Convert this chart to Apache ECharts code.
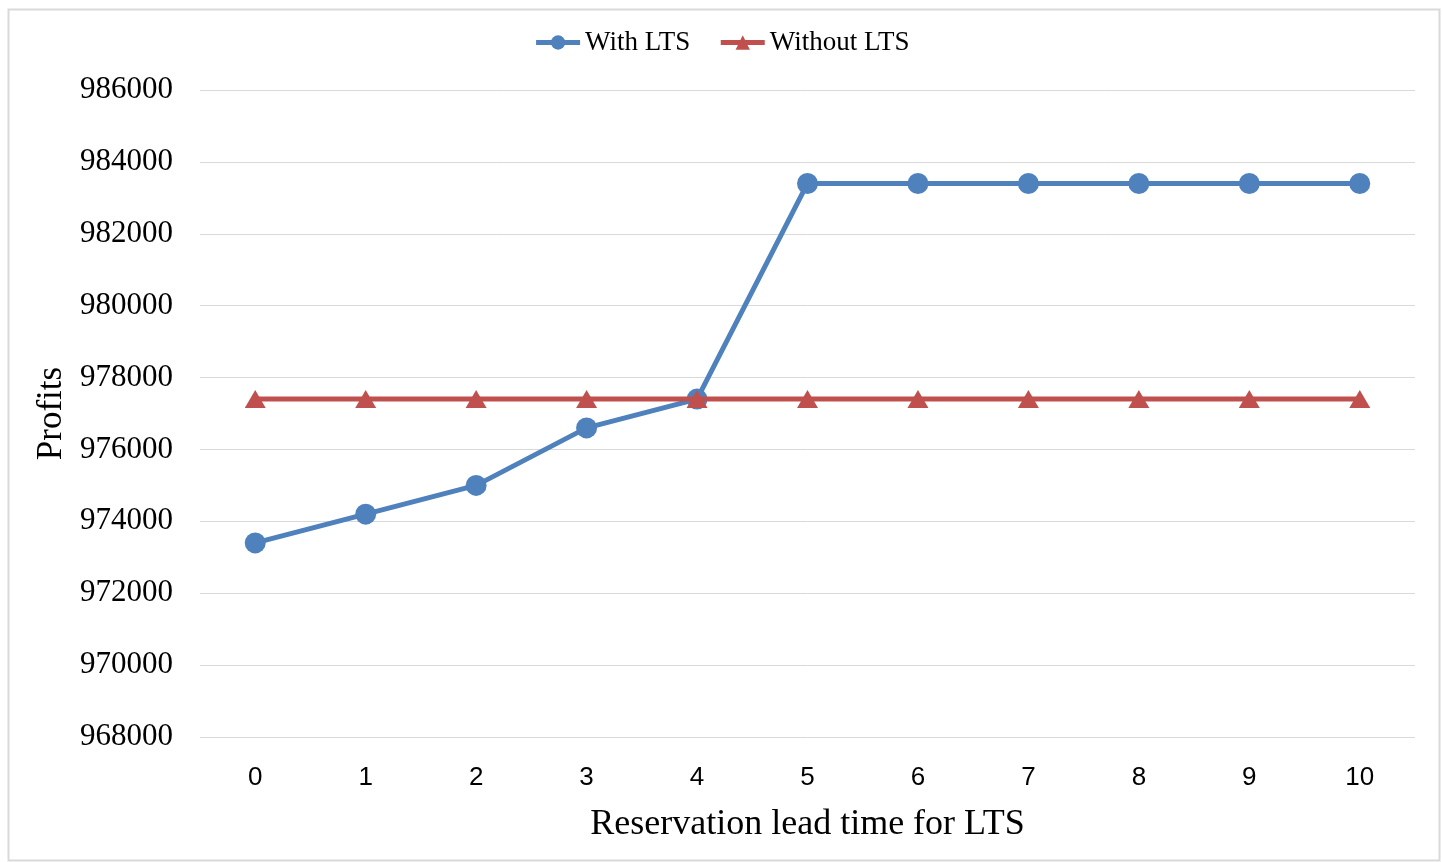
<!DOCTYPE html>
<html><head><meta charset="utf-8">
<script src="https://cdn.jsdelivr.net/npm/echarts@6/dist/echarts.min.js"></script>
<style>html,body{margin:0;padding:0;background:#fff}#c{width:1443px;height:862px}</style>
</head><body><div id="c"></div>
<script>
const categories = ['0','1','2','3','4','5','6','7','8','9','10'];
const withLTS = [973400, 974200, 975000, 976600, 977400, 983400, 983400, 983400, 983400, 983400, 983400];
const withoutLTS = [977400, 977400, 977400, 977400, 977400, 977400, 977400, 977400, 977400, 977400, 977400];
const seriesNames = ['With LTS', 'Without LTS'];
const yMin = 968000, yMax = 986000, yStep = 2000;

const chart = echarts.init(document.getElementById('c'));
const serif = '"Liberation Serif", "Times New Roman", serif';
chart.setOption({
  animation: false,
  backgroundColor: '#fff',
  graphic: [{
    type: 'rect', left: 6, top: 7,
    shape: { width: 1431, height: 851 },
    style: { fill: 'none', stroke: '#d9d9d9', lineWidth: 2 }
  }],
  legend: {
    top: 24, left: 'center',
    itemWidth: 44, itemHeight: 18, itemGap: 28,
    lineStyle: { width: 5 },
    textStyle: { fontFamily: serif, fontSize: 27, color: '#000' },
    data: seriesNames
  },
  grid: { left: 200, right: 28, top: 90, bottom: 125, containLabel: false },
  xAxis: {
    type: 'category', data: categories, boundaryGap: true,
    axisLine: { show: false }, axisTick: { show: false },
    axisLabel: { fontFamily: '"Liberation Sans", Arial, sans-serif', fontSize: 26, color: '#000', margin: 28 },
    name: 'Reservation lead time for LTS', nameLocation: 'middle', nameGap: 70,
    nameTextStyle: { fontFamily: serif, fontSize: 36, color: '#000' }
  },
  yAxis: {
    type: 'value', min: yMin, max: yMax, interval: yStep,
    axisLine: { show: false }, axisTick: { show: false },
    splitLine: { lineStyle: { color: '#d9d9d9', width: 1 } },
    axisLabel: { fontFamily: serif, fontSize: 31, color: '#000', margin: 27, formatter: v => String(v) },
    name: 'Profits', nameLocation: 'middle', nameGap: 128,
    nameTextStyle: { fontFamily: serif, fontSize: 35, color: '#000' }
  },
  series: [
    { name: seriesNames[0], type: 'line', data: withLTS, symbol: 'circle', symbolSize: 21,
      lineStyle: { color: '#4F81BD', width: 5 }, itemStyle: { color: '#4F81BD' }, z: 2 },
    { name: seriesNames[1], type: 'line', data: withoutLTS, symbol: 'triangle', symbolSize: [21, 18],
      lineStyle: { color: '#C0504D', width: 5 }, itemStyle: { color: '#C0504D' }, z: 3 }
  ]
});
</script></body></html>
